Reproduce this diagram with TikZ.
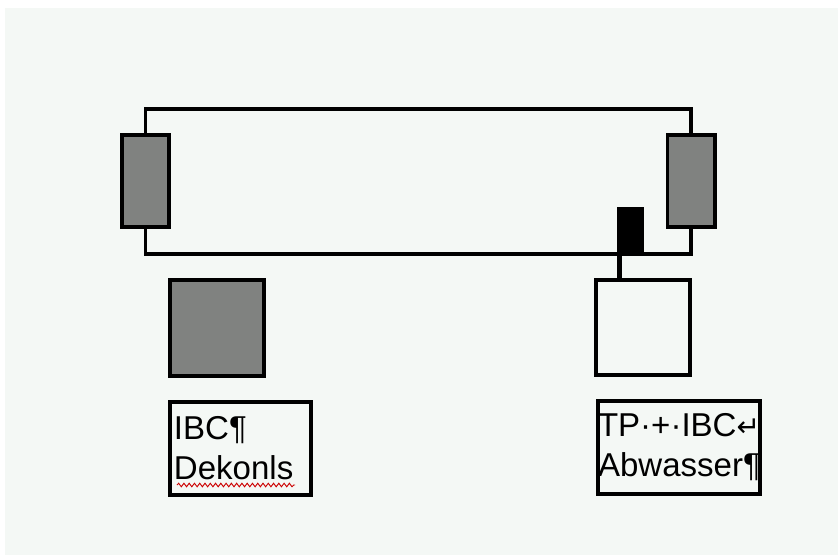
\documentclass[tikz,border=0pt]{standalone}
\usepackage{fontspec}
\setmainfont{Liberation Sans}
\newfontfamily\symfont{DejaVu Sans}
\usetikzlibrary{decorations.pathmorphing}
\definecolor{paper}{RGB}{244,248,245}
\definecolor{filtergrey}{RGB}{128,130,128}
\begin{document}
\begin{tikzpicture}
		[x=0.03cm,y=-0.03cm,
		pipe/.style={line width=3.4pt},
		box/.style={draw,line width=3.4pt,inner sep=0pt},
		filter/.style={box,fill=filtergrey,minimum width=1.41cm,minimum height=2.76cm},
		tank/.style={box,minimum width=2.82cm,minimum height=2.88cm},
		label/.style={box,minimum height=2.79cm,align=left,
			font=\fontsize{28.2pt}{34.1pt}\selectfont}]
		\useasboundingbox (0,0) rectangle (838,555);
		\fill[paper] (5,8) rectangle (838,555);
		\node[filter] (lfilter) at (145.5,181) {};
		\node[filter] (rfilter) at (691,181) {};
		\draw[pipe] (lfilter.north) -- ++(0,-24.5) -| (rfilter.north);
		\draw[pipe] (lfilter.south) -- ++(0,25) -| (rfilter.south);
		\node[fill=black,inner sep=0pt,minimum width=0.81cm,minimum height=1.47cm] (pump) at (630.5,231.5) {};
		\node[tank,fill=filtergrey] (ibcdekon) at (217,328) {};
		\node[tank,minimum height=2.85cm] (ibcabw) at (643,327.5) {};
		\coordinate (stem) at (619.5,252);
		\draw[line width=5pt] (stem) -- (stem |- ibcabw.north);
		\node[label,text width=3.99cm,inner xsep=0.12cm] (txtdekon) at (240.5,448.5)
			{IBC¶\\Dekonls};
		\node[label,text width=4.86cm] (txtabw) at (679,447.5)
			{TP·+·IBC{\symfont\fontsize{24pt}{24pt}\selectfont ↵}\\Abwasser¶};
		\draw[red!80!black,line width=0.8pt,decorate,
			decoration={snake,amplitude=1.5pt,segment length=4.5pt}]
			(177,485) -- (295,485);
	\end{tikzpicture}
\end{document}
